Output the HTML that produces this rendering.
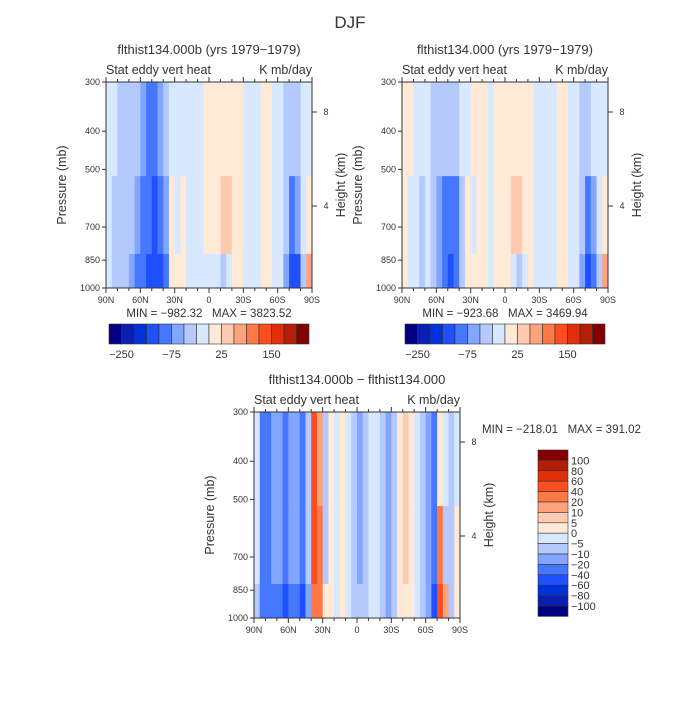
<!DOCTYPE html>
<html><head><meta charset="utf-8"><style>
body{margin:0;background:#fff}
svg{font-family:"Liberation Sans",sans-serif;fill:#222}
text{fill:#333;white-space:pre}
</style></head><body>
<svg id="c" width="700" height="700" viewBox="0 0 700 700" xmlns="http://www.w3.org/2000/svg">
<text x="350" y="28" font-size="17" text-anchor="middle" fill="#444">DJF</text>
</svg>
<script>
// colour levels (shared colour ramp, 16 colours)
const colors=["#000080","#0a1eb4","#0032dc","#1e50ff","#4678ff","#82a5ff","#b4caff","#d7e8ff","#ffe9d7","#ffcbb0","#ffa37c","#ff7845","#ff4e1e","#e02f0a","#b41e05","#820000"];
const topBounds=[-250,-200,-150,-100,-75,-50,-25,0,25,50,75,100,150,200,250];
const diffBounds=[-100,-80,-60,-40,-20,-10,-5,0,5,10,20,40,60,80,100];
// latitude bins (5 deg) from 90N to 90S; three pressure bands
const latEdges=[90,85,80,75,70,65,60,55,50,45,40,35,30,25,20,15,10,5,0,-5,-10,-15,-20,-25,-30,-35,-40,-45,-50,-55,-60,-65,-70,-75,-80,-85,-90];
const pBands=[[300,520],[520,820],[820,1000]];
// panel A (flthist134.000b)
const aUpper=[-10,-10,-30,-30,-30,-40,-60,-80,-80,-60,-30,-10,-10,-10,-10,-10,-10,10,10,10,20,20,10,10,-10,-10,-10,10,10,-10,-10,-30,-30,-30,-10,-10];
const aMid=[-10,-30,-40,-40,-40,-60,-80,-90,-110,-80,-60,10,-10,10,-10,-10,-10,10,15,20,30,30,20,10,-10,-10,-10,10,10,-10,-10,-40,-80,-60,-10,10];
const aLow=[-10,-30,-40,-40,-60,-80,-90,-110,-120,-110,-80,10,10,10,-10,-10,-10,-10,-10,-10,-30,-10,10,10,-10,-10,-10,10,10,-10,-10,-60,-130,-110,-30,60];
// panel B (flthist134.000)
const bUpper=[10,10,-10,-10,-10,-30,-40,-40,-40,-30,-10,-10,10,10,10,-10,10,10,20,20,20,20,10,-10,-10,-10,-10,10,10,-10,-10,-30,-30,-10,-10,-10];
const bMid=[10,-10,-10,-30,-10,-30,-60,-80,-90,-80,-30,10,-10,10,10,-10,10,20,20,30,30,20,10,-10,-10,-10,-10,10,10,-10,-10,-30,-80,-60,-10,10];
const bLow=[10,-10,-10,-30,-10,-30,-60,-90,-110,-90,-30,10,10,10,10,-10,10,10,10,-10,-30,-10,10,-10,-10,-10,-10,10,10,-10,-10,-60,-120,-90,-30,60];
// panel C (difference)
const cUpper=[-3,-30,-30,-15,-15,-30,-15,-15,-30,-8,45,15,-8,3,-3,3,-3,-8,-15,-8,-3,-3,-8,-15,-8,3,8,3,-3,-8,-15,-30,3,-3,-8,-3];
const cMid=[-3,-30,-30,-15,-15,-30,-15,-15,-30,-8,45,25,-8,3,-3,3,-3,-8,-15,-8,-3,-3,-8,-15,-8,3,8,3,-3,-8,-15,-30,30,-8,-8,3];
const cLow=[-8,-30,-40,-30,-30,-50,-30,-30,-50,-15,35,20,3,3,-3,3,-3,-8,-8,-8,-3,-3,-8,-15,-8,3,3,3,-3,-8,-15,-45,45,15,-8,3];

const NS="http://www.w3.org/2000/svg";
const svg=document.getElementById('c');
function el(tag,attrs,parent){const e=document.createElementNS(NS,tag);for(const k in attrs)e.setAttribute(k,attrs[k]);(parent||svg).appendChild(e);return e;}
function txt(x,y,s,size,anchor,parent){const t=el('text',{x:x,y:y,'font-size':size,'text-anchor':anchor||'middle'},parent);t.textContent=s;return t;}
function colorFor(v,b){let i=0;while(i<b.length&&v>=b[i])i++;return colors[i];}

function panel(P){
  const g=el('g',{});
  
  
  const x0=P.x,x1=P.x+206,y0=P.y,y1=P.y+206;
  const xs=lat=>x0+(90-lat)/180*(x1-x0);
  const ys=p=>y1-Math.log(1000/p)/Math.log(1000/300)*(y1-y0);
  const bands=[P.up,P.mid,P.low];
  for(let b=0;b<3;b++){
    for(let i=0;i<36;i++){
      const r=el('rect',{x:xs(latEdges[i]),y:ys(pBands[b][0]),width:xs(latEdges[i+1])-xs(latEdges[i])+0.4,height:ys(pBands[b][1])-ys(pBands[b][0])+0.4,fill:colorFor(bands[b][i],P.bounds)},g);
      
      
    }
  }
  el('rect',{x:x0,y:y0,width:206,height:206,fill:'none',stroke:'#333','stroke-width':1},g);
  [300,400,500,700,850,1000].forEach(p=>{
    el('line',{x1:x0-4,x2:x0,y1:ys(p),y2:ys(p),stroke:'#333'},g);
    const t=txt(x0-6,ys(p)+3,String(p),9,'end',g);
    
    
  });
  const labs=['90N','60N','30N','0','30S','60S','90S'];
  [90,60,30,0,-30,-60,-90].forEach((l,i)=>{
    el('line',{x1:xs(l),x2:xs(l),y1:y1,y2:y1+5,stroke:'#333'},g);
    el('line',{x1:xs(l),x2:xs(l),y1:y0,y2:y0-5,stroke:'#333'},g);
    const t=txt(xs(l),y1+15,labs[i],9,'middle',g);
    
    
  });
  for(let l=80;l>-90;l-=10){if(l%30){el('line',{x1:xs(l),x2:xs(l),y1:y1,y2:y1+3,stroke:'#333'},g);el('line',{x1:xs(l),x2:xs(l),y1:y0,y2:y0-3,stroke:'#333'},g);}}
  [[8,30],[4,124]].forEach(h=>{
    const yy=y0+h[1];
    el('line',{x1:x1,x2:x1+5,y1:yy,y2:yy,stroke:'#333'},g);
    txt(x1+14,yy+3,String(h[0]),9,'middle',g);
  });
  const yl=txt(0,0,'Pressure (mb)',12.5,'middle',g);
  yl.setAttribute('transform',`translate(${x0-40},${y0+103}) rotate(-90)`);
  
  
  const hl=txt(0,0,'Height (km)',12.5,'middle',g);
  hl.setAttribute('transform',`translate(${x1+33},${y0+103}) rotate(-90)`);
  
  
  const tt=txt(x0+103,y0-28,P.title,13,'middle',g);
  
  
  txt(x0,y0-8,'Stat eddy vert heat',12.5,'start',g);
  txt(x1,y0-8,'K mb/day',12.5,'end',g);
  if(P.mm){const m=txt(x0+103,y1+29,P.mm,11.5,'middle',g);}
  if(P.cbar){
    const cx=P.x+3;
    for(let i=0;i<16;i++){
      const r=el('rect',{x:cx+i*12.5,y:y1+36,width:12.5,height:20,fill:colors[i],stroke:'#333','stroke-width':0.6},g);
      
      
    }
    [[1,'-250'],[5,'-75'],[9,'25'],[13,'150']].forEach(a=>txt(cx+a[0]*12.5,y1+70,a[1].replace('-','\u2212'),11,'middle',g));
  }
}
panel({name:'panel-flthist134-000b',x:106,y:82,title:'flthist134.000b (yrs 1979\u22121979)',up:aUpper,mid:aMid,low:aLow,bounds:topBounds,mm:'MIN = \u2212982.32   MAX = 3823.52',cbar:true});
panel({name:'panel-flthist134-000',x:402,y:82,title:'flthist134.000 (yrs 1979\u22121979)',up:bUpper,mid:bMid,low:bLow,bounds:topBounds,mm:'MIN = \u2212923.68   MAX = 3469.94',cbar:true});
panel({name:'panel-difference',x:254,y:412,title:'flthist134.000b \u2212 flthist134.000',up:cUpper,mid:cMid,low:cLow,bounds:diffBounds});
const lg=el('g',{});


const mm=txt(482,433,'MIN = \u2212218.01   MAX = 391.02',11.5,'start',lg);


const labels=['100','80','60','40','20','10','5','0','-5','-10','-20','-40','-60','-80','-100'];
for(let i=0;i<16;i++){
  const r=el('rect',{x:538,y:450+i*10.4,width:30,height:10.4,fill:colors[15-i],stroke:'#333','stroke-width':0.6},lg);
  
  
}
labels.forEach((s,i)=>txt(571,450+(i+1)*10.4+4,s.replace('-','\u2212'),11,'start',lg));
</script>
</body></html>
